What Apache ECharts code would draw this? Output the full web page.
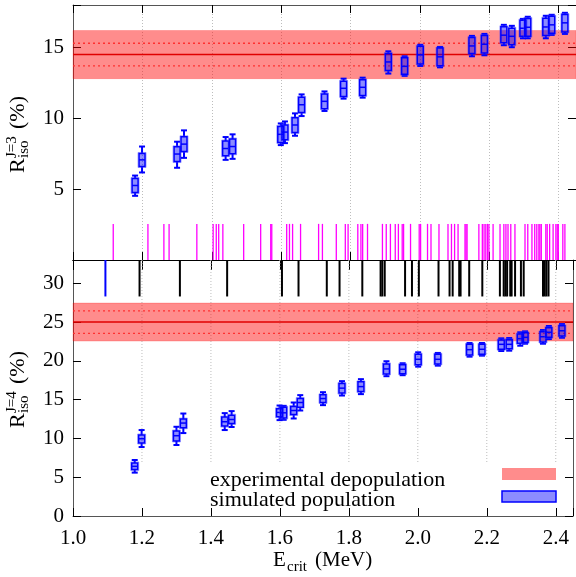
<!DOCTYPE html>
<html><head><meta charset="utf-8">
<script src="https://cdn.jsdelivr.net/npm/echarts@6/dist/echarts.min.js"></script>
<style>html,body{margin:0;padding:0;background:#fff}#c{width:576px;height:577px}</style>
</head><body><div id="c"></div>
<script>
// ---- data ----
const energies = [1.179, 1.199, 1.300, 1.320, 1.440, 1.460, 1.599, 1.611, 1.640, 1.659, 1.725, 1.780, 1.835, 1.909, 1.956, 2.001, 2.058, 2.150, 2.186, 2.242, 2.265, 2.297, 2.311, 2.363, 2.380, 2.418];

const j3Low  = [4.53, 6.18, 6.51, 7.21, 7.07, 7.14, 8.11, 8.25, 8.77, 10.16, 10.52, 11.39, 11.46, 13.16, 13.00, 13.70, 13.60, 14.38, 14.45, 15.16, 15.02, 15.65, 15.65, 15.65, 15.89, 15.96];
const j3Q1   = [4.76, 6.60, 6.95, 7.66, 7.36, 7.50, 8.30, 8.49, 9.00, 10.42, 10.68, 11.55, 11.62, 13.37, 13.11, 13.84, 13.72, 14.57, 14.62, 15.33, 15.19, 15.79, 15.79, 15.84, 16.00, 16.10];
const j3Med  = [5.26, 7.07, 7.48, 8.18, 7.87, 8.01, 8.87, 9.03, 9.53, 10.96, 11.20, 12.12, 12.19, 13.98, 13.67, 14.48, 14.34, 15.11, 15.23, 15.87, 15.79, 16.36, 16.43, 16.45, 16.60, 16.74];
const j3Q3   = [5.75, 7.52, 7.99, 8.70, 8.40, 8.54, 9.43, 9.53, 10.04, 11.48, 11.72, 12.61, 12.73, 14.57, 14.27, 15.09, 14.96, 15.70, 15.84, 16.46, 16.36, 16.93, 17.05, 17.07, 17.21, 17.33];
const j3High = [5.96, 8.01, 8.35, 9.15, 8.68, 8.87, 9.64, 9.78, 10.35, 11.69, 11.90, 12.80, 12.87, 14.73, 14.38, 15.19, 15.04, 15.82, 15.96, 16.60, 16.53, 17.02, 17.17, 17.24, 17.31, 17.45];

const j4Low  = [5.59, 8.89, 9.15, 10.69, 11.08, 11.47, 12.36, 12.40, 12.57, 13.60, 14.29, 15.53, 15.71, 18.02, 18.15, 19.25, 19.38, 20.54, 20.67, 21.27, 21.31, 21.95, 22.21, 22.21, 22.81, 22.98];
const j4Q1   = [5.98, 9.41, 9.67, 11.38, 11.59, 11.93, 12.79, 12.62, 13.08, 14.03, 14.63, 15.84, 16.04, 18.32, 18.35, 19.51, 19.60, 20.76, 20.85, 21.49, 21.57, 22.26, 22.39, 22.43, 23.03, 23.20];
const j4Med  = [6.40, 9.96, 10.35, 11.98, 12.15, 12.44, 13.35, 13.30, 13.60, 14.63, 15.14, 16.48, 16.68, 18.96, 18.92, 20.20, 20.20, 21.44, 21.49, 22.13, 22.13, 22.86, 23.03, 23.11, 23.68, 23.88];
const j4Q3   = [6.84, 10.44, 10.95, 12.49, 12.75, 13.00, 13.82, 14.03, 14.11, 15.14, 15.62, 17.07, 17.29, 19.60, 19.51, 20.85, 20.85, 22.13, 22.13, 22.69, 22.73, 23.46, 23.62, 23.75, 24.27, 24.52];
const j4High = [7.22, 11.08, 11.50, 13.21, 13.26, 13.52, 14.24, 14.20, 14.63, 15.58, 15.96, 17.38, 17.64, 19.95, 19.69, 21.10, 21.02, 22.30, 22.30, 22.90, 22.94, 23.68, 23.80, 23.97, 24.49, 24.74];

// experimental depopulation: [central, inner (dotted) half-width, outer (band) half-width]
const expJ3 = [14.5, 0.8, 1.7];
const expJ4 = [25.0, 1.45, 2.45];

// level energies (rug marks)
const simLevels = [1.116, 1.216, 1.262, 1.277, 1.357, 1.404, 1.413, 1.420, 1.432, 1.492, 1.541, 1.570, 1.573, 1.616, 1.624, 1.633, 1.656, 1.708, 1.719, 1.759, 1.785, 1.793, 1.821, 1.830, 1.835, 1.849, 1.892, 1.903, 1.915, 1.929, 1.938, 1.949, 1.953, 1.973, 1.998, 2.002, 2.022, 2.032, 2.055, 2.081, 2.091, 2.100, 2.110, 2.130, 2.133, 2.136, 2.170, 2.180, 2.185, 2.190, 2.195, 2.199, 2.211, 2.231, 2.242, 2.248, 2.254, 2.262, 2.274, 2.303, 2.311, 2.323, 2.331, 2.337, 2.343, 2.346, 2.350, 2.363, 2.367, 2.374, 2.384, 2.392, 2.396, 2.399, 2.412, 2.418];
const expLevelsBlue = [1.094];
const expLevels = [1.193, 1.310, 1.447, 1.606, 1.654, 1.736, 1.773, 1.839, 1.892, 1.897, 1.904, 1.963, 1.983, 2.003, 2.060, 2.092, 2.101, 2.120, 2.124, 2.149, 2.187, 2.238, 2.249, 2.254, 2.259, 2.268, 2.272, 2.282, 2.299, 2.307, 2.363, 2.368, 2.373, 2.379];

const xTicks = [1.0, 1.2, 1.4, 1.6, 1.8, 2.0, 2.2, 2.4];
const yTicksTop = [5, 10, 15];
const yTicksBottom = [0, 5, 10, 15, 20, 25, 30];

// ---- axis limits / constants ----
const X_MIN = 1.0, X_MAX = 2.45;
const TOP_MAX = 18, BOT_MAX = 33;
const SIM_RUG_TOP = 2.55;   // top panel rug height
const EXP_RUG_BOTTOM = 28.3; // bottom panel rug lower end
const GRID_CUT = 6.9;        // gridlines hidden below (legend box)

const FONT = '"Liberation Serif", "DejaVu Serif", serif';
const BLUE = '#0000ff';

function boxRows(lo, q1, med, q3, hi) {
  return energies.map((e, i) => [e, lo[i], q1[i], med[i], q3[i], hi[i]]);
}

function boxItem(params, api) {
  const e = api.value(0);
  const x = api.coord([e, 0])[0];
  const yLo = api.coord([e, api.value(1)])[1];
  const yQ1 = api.coord([e, api.value(2)])[1];
  const yMed = api.coord([e, api.value(3)])[1];
  const yQ3 = api.coord([e, api.value(4)])[1];
  const yHi = api.coord([e, api.value(5)])[1];
  const hw = 3, cw = 3;
  const ls = { stroke: BLUE, lineWidth: 2 };
  return { type: 'group', children: [
    { type: 'line', shape: { x1: x, y1: yLo, x2: x, y2: yQ1 }, style: ls },
    { type: 'line', shape: { x1: x, y1: yQ3, x2: x, y2: yHi }, style: ls },
    { type: 'line', shape: { x1: x - cw, y1: yLo, x2: x + cw, y2: yLo }, style: ls },
    { type: 'line', shape: { x1: x - cw, y1: yHi, x2: x + cw, y2: yHi }, style: ls },
    { type: 'rect', shape: { x: x - hw - 1, y: yQ3 - 1, width: 2 * hw + 2, height: yQ1 - yQ3 + 2 }, style: { fill: 'none', stroke: 'rgba(60,60,255,0.45)', lineWidth: 1 } },
    { type: 'rect', shape: { x: x - hw, y: yQ3, width: 2 * hw, height: yQ1 - yQ3 }, style: { fill: 'rgba(0,0,255,0.45)', stroke: BLUE, lineWidth: 1.5 } },
    { type: 'line', shape: { x1: x - hw, y1: yMed, x2: x + hw, y2: yMed }, style: { stroke: BLUE, lineWidth: 1.5 } }
  ]};
}

function bandItem(params, api) {
  const c = api.value(0), inner = api.value(1), outer = api.value(2);
  const cs = params.coordSys;
  const y = v => api.coord([X_MIN, v])[1];
  const x1 = cs.x, x2 = cs.x + cs.width;
  return { type: 'group', children: [
    { type: 'rect', shape: { x: x1, y: y(c + outer), width: x2 - x1, height: y(c - outer) - y(c + outer) }, style: { fill: 'rgba(255,0,0,0.45)', stroke: 'rgba(255,0,0,0.2)', lineWidth: 1 } },
    { type: 'line', shape: { x1, y1: y(c), x2, y2: y(c) }, style: { stroke: '#e00000', lineWidth: 1.5 } },
    { type: 'line', shape: { x1, y1: y(c + inner), x2, y2: y(c + inner) }, style: { stroke: '#ff3030', lineWidth: 1.3, lineDash: [2, 3] } },
    { type: 'line', shape: { x1, y1: y(c - inner), x2, y2: y(c - inner) }, style: { stroke: '#ff3030', lineWidth: 1.3, lineDash: [2, 3] } }
  ]};
}

function rugItem(y0, y1, color, width) {
  return function (params, api) {
    const e = api.value(0);
    const p0 = api.coord([e, y0]), p1 = api.coord([e, y1]);
    return { type: 'line', shape: { x1: p0[0], y1: p0[1], x2: p1[0], y2: p1[1] }, style: { stroke: color, lineWidth: width } };
  };
}

const xLabelFmt = v => {
  const k = v / 0.2;
  return Math.abs(k - Math.round(k)) < 1e-6 ? v.toFixed(1) : '';
};
const yLabelFmt = ticks => v => ticks.some(t => Math.abs(t - v) < 1e-6) ? String(v) : '';

const axisLineStyle = { color: '#555', width: 1 };
function xAxisDef(grid, position, opts) {
  return Object.assign({
    type: 'value', gridIndex: grid, position, min: X_MIN, max: X_MAX, interval: 0.2,
    axisLine: { show: true, onZero: false, lineStyle: axisLineStyle },
    axisTick: { show: true, inside: true, length: 8, lineStyle: { color: '#000', width: 1 } },
    axisLabel: { show: false },
    splitLine: { show: false }
  }, opts);
}
function yAxisDef(grid, position, max, ticks, showLabel) {
  return {
    type: 'value', gridIndex: grid, position, min: 0, max, interval: 5,
    axisLine: { show: true, onZero: false, lineStyle: axisLineStyle },
    axisTick: { show: true, inside: true, length: 8, lineStyle: { color: '#000', width: 1 } },
    axisLabel: { show: showLabel, formatter: yLabelFmt(ticks), fontFamily: FONT, fontSize: 21, color: '#000', margin: 9 },
    splitLine: { show: false }
  };
}

const chart = echarts.init(document.getElementById('c'), null, { renderer: 'canvas' });
const option = {
  animation: false,
  backgroundColor: '#fff',
  grid: [
    { left: 73, top: 5, width: 504, height: 255 },
    { left: 73, top: 260, width: 504, height: 256 }
  ],
  xAxis: [
    xAxisDef(0, 'bottom', { axisLine: { show: true, onZero: false, lineStyle: { color: '#000', width: 1.2 } }, splitLine: { show: true, lineStyle: { color: '#bdbdbd', type: [1, 2], width: 1 } } }),
    xAxisDef(0, 'top', {}),
    xAxisDef(1, 'top', { axisLine: { show: true, onZero: false, lineStyle: { color: '#000', width: 1.2 } }, axisTick: { show: true, inside: true, length: 10, lineStyle: { color: '#000', width: 1 } } }),
    xAxisDef(1, 'bottom', { axisLabel: { show: true, formatter: xLabelFmt, fontFamily: FONT, fontSize: 21, color: '#000', margin: 12 } })
  ],
  yAxis: [
    yAxisDef(0, 'left', TOP_MAX, yTicksTop, true),
    yAxisDef(0, 'right', TOP_MAX, yTicksTop, false),
    yAxisDef(1, 'left', BOT_MAX, yTicksBottom, true),
    yAxisDef(1, 'right', BOT_MAX, yTicksBottom, false)
  ],
  series: [
    // bottom-panel vertical grid lines (stop at legend box)
    { type: 'custom', xAxisIndex: 3, yAxisIndex: 2, z: 1, silent: true, data: xTicks.slice(1).map(v => [v]),
      renderItem: (params, api) => {
        const e = api.value(0);
        const p0 = api.coord([e, BOT_MAX]), p1 = api.coord([e, GRID_CUT]);
        return { type: 'line', shape: { x1: p0[0], y1: p0[1], x2: p1[0], y2: p1[1] }, style: { stroke: '#bdbdbd', lineWidth: 1, lineDash: [1, 2] } };
      } },
    { type: 'custom', xAxisIndex: 0, yAxisIndex: 0, z: 2, silent: true, data: [expJ3], renderItem: bandItem },
    { type: 'custom', xAxisIndex: 3, yAxisIndex: 2, z: 2, silent: true, data: [expJ4], renderItem: bandItem },
    { type: 'custom', xAxisIndex: 0, yAxisIndex: 0, z: 3, silent: true, data: simLevels.map(v => [v]), renderItem: rugItem(0, SIM_RUG_TOP, '#ff00ff', 1.3) },
    { type: 'custom', xAxisIndex: 3, yAxisIndex: 2, z: 3, silent: true, data: expLevels.map(v => [v]), renderItem: rugItem(BOT_MAX, EXP_RUG_BOTTOM, '#000', 2) },
    { type: 'custom', xAxisIndex: 3, yAxisIndex: 2, z: 3, silent: true, data: expLevelsBlue.map(v => [v]), renderItem: rugItem(BOT_MAX, EXP_RUG_BOTTOM, BLUE, 2) },
    { type: 'custom', xAxisIndex: 0, yAxisIndex: 0, z: 4, silent: true, data: boxRows(j3Low, j3Q1, j3Med, j3Q3, j3High), renderItem: boxItem },
    { type: 'custom', xAxisIndex: 3, yAxisIndex: 2, z: 4, silent: true, data: boxRows(j4Low, j4Q1, j4Med, j4Q3, j4High), renderItem: boxItem }
  ],
  graphic: [
    // y title (top)
    { type: 'group', x: 0, y: 133, rotation: Math.PI / 2, children: [
      { type: 'text', x: -40, y: 18, style: { text: 'R', font: '22px ' + FONT, fill: '#000', align: 'left', verticalAlign: 'middle' } },
      { type: 'text', x: -25, y: 12, style: { text: 'J=3', font: '15px ' + FONT, fill: '#000', align: 'left', verticalAlign: 'middle' } },
      { type: 'text', x: -25, y: 24, style: { text: 'iso', font: '15px ' + FONT, fill: '#000', align: 'left', verticalAlign: 'middle' } },
      { type: 'text', x: 4, y: 18, style: { text: '(%)', font: '22px ' + FONT, fill: '#000', align: 'left', verticalAlign: 'middle' } }
    ]},
    // y title (bottom)
    { type: 'group', x: 0, y: 388, rotation: Math.PI / 2, children: [
      { type: 'text', x: -40, y: 18, style: { text: 'R', font: '22px ' + FONT, fill: '#000', align: 'left', verticalAlign: 'middle' } },
      { type: 'text', x: -25, y: 12, style: { text: 'J=4', font: '15px ' + FONT, fill: '#000', align: 'left', verticalAlign: 'middle' } },
      { type: 'text', x: -25, y: 24, style: { text: 'iso', font: '15px ' + FONT, fill: '#000', align: 'left', verticalAlign: 'middle' } },
      { type: 'text', x: 4, y: 18, style: { text: '(%)', font: '22px ' + FONT, fill: '#000', align: 'left', verticalAlign: 'middle' } }
    ]},
    // x title
    { type: 'text', x: 273, y: 560, style: { text: 'E', font: '21px ' + FONT, fill: '#000', align: 'left', verticalAlign: 'middle' } },
    { type: 'text', x: 287, y: 567, style: { text: 'crit', font: '15px ' + FONT, fill: '#000', align: 'left', verticalAlign: 'middle' } },
    { type: 'text', x: 315, y: 560, style: { text: '(MeV)', font: '21px ' + FONT, fill: '#000', align: 'left', verticalAlign: 'middle' } },
    // legend
    { type: 'text', x: 210, y: 480, style: { text: 'experimental depopulation', font: '22px ' + FONT, fill: '#000', align: 'left', verticalAlign: 'middle' } },
    { type: 'text', x: 210, y: 500, style: { text: 'simulated population', font: '22px ' + FONT, fill: '#000', align: 'left', verticalAlign: 'middle' } },
    { type: 'rect', shape: { x: 502, y: 468, width: 54, height: 12 }, style: { fill: 'rgba(255,0,0,0.45)' } },
    { type: 'rect', shape: { x: 502, y: 491, width: 54, height: 11 }, style: { fill: 'rgba(0,0,255,0.45)', stroke: BLUE, lineWidth: 1.5 } }
  ]
};
chart.setOption(option);
</script>
</body></html>
